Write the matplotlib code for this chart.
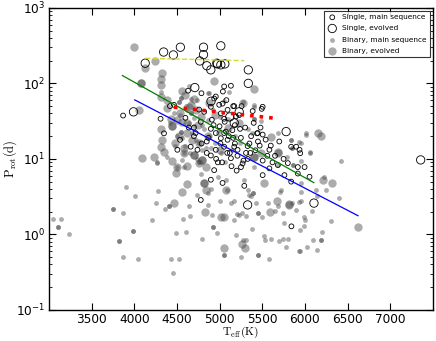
import matplotlib
matplotlib.use("Agg")
import matplotlib.pyplot as plt

plt.rcParams['mathtext.fontset'] = 'cm'
plt.rcParams['font.family'] = ['DejaVu Sans']

# Single, main sequence (small open circles)
single_ms_teff = [3870, 4309, 4349, 4419, 4466, 5133, 5505, 5842, 4780, 4937, 5172, 5192, 5180, 5494,
                  5388, 5439, 5505, 5945, 5898, 5584, 5035, 5290, 5251, 5505, 5584, 5682, 5760, 5839,
                  5917, 5996, 6054, 4537, 4506, 4780, 4898, 4956, 5015, 5074, 5094, 4662, 4741, 4898,
                  4956, 5054, 4898, 4996, 5094, 5054, 5054, 5172, 5211, 5505, 5839, 5937, 5917, 5133,
                  5270, 4898, 5160, 5258, 4937, 4956, 5039, 5054, 4788, 4631, 5035, 5447, 5329, 5015,
                  4700, 4850, 4600, 5250, 5350, 5450, 5600, 5700, 5150, 4820, 4930, 5120, 5300, 4980,
                  5200, 4760, 5080, 5400, 5650, 4700, 5230, 4870, 4910, 5000, 5060, 5110, 5180, 5240,
                  5310, 5370, 5420, 5480, 5540, 4960, 5030, 5140, 5210, 5280, 5360, 5470, 5560, 5620,
                  5750, 5800, 4790, 4850, 5010, 5090, 5160, 5330, 4640, 4720]
single_ms_prot = [37.5, 34, 21.8, 50, 52, 93, 49, 1.28, 2.86, 7.1, 50, 36.5, 28, 46,
                  43, 21.8, 21, 11.9, 14.5, 13.2, 4.8, 4.4, 7.8, 6.1, 7.5, 8.3, 6.1, 5.0,
                  6.4, 7.8, 5.8, 17.9, 13.2, 31, 25, 22, 18.8, 23, 17.9, 14.5, 13.2, 11.1,
                  13.2, 14.5, 49, 52, 44.6, 34, 22, 14.5, 13.2, 9.5, 14.5, 13.2, 7.8, 10.2,
                  8.7, 5.3, 50, 50, 63, 67, 78, 91, 74, 80, 54, 22, 14.8, 40,
                  20, 17, 35, 19, 16, 17, 15, 17, 24, 42, 28, 12, 26, 9,
                  7.0, 45, 60, 30, 11, 26, 38, 19, 33, 27, 31, 20, 16, 25,
                  12, 20, 13, 26, 18, 10, 9.0, 8.0, 11, 9.5, 12, 15, 11, 9.0,
                  10, 8.8, 16, 12, 16, 12, 19, 10, 26, 22]

# Single, evolved (large open circles)
single_ev_teff = [4345, 4459, 4541, 4129, 4812, 4812, 4768, 4851, 4898, 5015, 4968, 4976, 5062,
                  5337, 5337, 3992, 7356, 6106, 5329, 5780, 5015, 5172, 4710, 5120, 5230, 4900]
single_ev_prot = [260, 238, 301, 185, 301, 240, 198, 171, 151, 314, 185, 181, 181,
                  151, 100, 42, 9.7, 2.6, 2.46, 23, 176, 30, 88, 36, 42, 58]

# Binary, main sequence (small grey)
bin_ms_teff = [3906, 4007, 3748, 3748, 3866, 3054, 3141, 3110, 3110, 3239, 3984, 3984, 3819, 3819,
               3874, 4042, 4207, 4278, 4254, 4356, 4407, 4407, 4572, 4659, 4494, 4612, 4427, 4529,
               4459, 4792, 4647, 4965, 4921, 4921, 5050, 5050, 5195, 5251, 5274, 5313, 5376, 5450,
               5450, 5521, 5537, 5580, 5608, 5702, 5745, 5800, 5784, 5760, 5925, 5941, 5992, 5945,
               6023, 6090, 6184, 6184, 6141, 6196, 6302, 6396, 6219, 6243, 6141, 6082, 5996, 5984,
               5925, 5949, 5847, 5741, 5705, 5651, 5568, 5431, 5368, 5313, 5258, 5203, 5172, 5501,
               5447, 5447, 5898, 5956, 5721, 5682, 5231, 5172, 6133, 5956, 5329, 5388, 5388, 5348,
               5290, 5407, 4741, 4859, 4859, 4917, 5007, 4898, 5086, 5133, 4780, 4976, 5074, 4262,
               4270, 4584, 4506, 4565, 4760, 4760, 6427, 6063, 6054, 5956, 5859, 5859, 5682, 5792,
               6007, 6015, 5925, 5956, 5839, 5839, 5847, 5847, 5682, 5376, 5486, 5407, 5407, 5407,
               5407, 5270, 5047, 5113, 4859, 4878, 4643, 4662, 4741, 4553, 4553, 4529, 4529, 4466,
               4662, 4662, 4702, 4545, 4545, 4859, 5094, 4388, 4317, 4600, 4720, 4880, 4950, 5020,
               5150, 4680, 4790, 4560, 4620, 4840, 4990, 5240, 5330, 4420, 4500, 4650, 4700, 4760,
               4820, 4900, 4580, 4640, 4980, 5060, 5180, 4480, 4540, 4610, 4740, 4800, 4920, 5000]
bin_ms_prot = [4.3, 3.2, 2.15, 2.15, 1.9, 1.6, 1.6, 1.25, 1.25, 1.02, 1.1, 1.1, 0.82, 0.82,
               0.5, 0.47, 1.55, 3.8, 2.6, 2.2, 2.4, 2.4, 1.6, 1.75, 1.03, 1.08, 0.48, 0.48,
               0.31, 0.86, 2.4, 1.03, 1.27, 1.27, 0.53, 0.53, 0.97, 0.5, 0.85, 0.84, 1.17, 0.53,
               0.53, 0.96, 0.85, 0.48, 0.88, 0.83, 0.86, 0.88, 0.69, 1.42, 0.6, 0.6, 1.28, 1.15,
               0.69, 0.84, 0.84, 0.84, 0.63, 1.07, 1.49, 3.0, 5.7, 3.9, 3.2, 2.05, 1.56, 1.7,
               2.7, 3.6, 2.6, 1.9, 3.7, 2.05, 2.6, 2.6, 3.2, 1.77, 1.95, 1.87, 1.53, 1.68,
               1.9, 1.9, 2.1, 2.75, 3.9, 2.4, 1.8, 2.75, 3.9, 4.8, 3.9, 3.5, 3.5, 3.3,
               5.3, 7.8, 3.3, 3.5, 2.46, 1.8, 2.75, 3.97, 3.88, 2.6, 6.4, 5.8, 5.3, 8.9,
               9.0, 7.8, 7.8, 9.7, 9.2, 9.2, 9.5, 11.9, 12.5, 9.5, 8.3, 8.3, 8.3, 10.7,
               21.8, 21, 16.9, 16, 17.9, 17.9, 14, 14, 21.8, 21.8, 32, 33.7, 33.7, 52,
               49, 56, 58, 78, 74, 74, 91, 62, 60, 65, 65, 56, 56, 40,
               40, 40, 27, 23, 23, 33, 34, 10.7, 76, 15, 18, 20, 16, 12,
               13, 22, 28, 19, 45, 14, 24, 16, 25, 30, 20, 12, 35, 16,
               25, 14, 12, 30, 22, 9.0, 20, 15, 38, 50, 10, 13, 45, 36]

# Binary, evolved (large grey)
bin_ev_teff = [4094, 4466, 4556, 4494, 4623, 5054, 5262, 5301, 6622, 6321, 5819, 5670, 5588, 5054,
               5015, 4615, 4447, 4839, 4812, 4812, 4827, 4506, 4839, 5074, 5525, 6211, 5819, 3999,
               4125, 4239, 4325, 4313, 4309, 4074, 4074, 4937, 5407, 5270, 5231, 5604, 6184, 6153,
               5682, 5682, 5486, 5407, 5407, 4329, 4349, 4231, 4309, 4447, 4447, 4565, 4427, 4388,
               4623, 4702, 4702, 4800, 4800, 4760, 4309, 4054, 4309, 4388, 4520, 4580, 4680, 4750,
               4950, 5100, 4480, 4640, 4880, 4560, 4600, 4660, 4720, 4780, 4540, 4500, 4700, 4860,
               4620, 4760, 5000, 4580]
bin_ev_prot = [10.3, 2.6, 3.6, 6.6, 4.7, 0.66, 0.75, 0.66, 1.26, 4.8, 2.5, 2.8, 2.0, 1.7,
               1.7, 8.0, 9.5, 3.88, 4.8, 4.8, 2.0, 7.8, 7.8, 3.88, 4.8, 5.3, 2.46, 301,
               162, 198, 138, 113, 96, 100, 100, 106, 84, 55, 30, 19.5, 20, 22,
               11.9, 12.5, 11.9, 10.6, 10.6, 17.9, 12.5, 10.7, 25, 27, 27, 31, 34, 47,
               30, 11.1, 11.1, 9.7, 9.7, 8.7, 14.5, 45, 67, 60, 20, 14, 18, 28,
               38, 26, 16, 48, 55, 80, 70, 52, 44, 36, 40, 33, 62, 20,
               22, 16, 13, 12]

# Fit lines (endpoints)
yellow_teff = [4130, 5290]
yellow_prot = [215, 200]
green_teff = [3862, 6104]
green_prot = [127, 4.85]
blue_teff = [4007, 6622]
blue_prot = [60.4, 1.77]
red_teff = [4466, 5641]
red_prot = [48.4, 34.6]

fig = plt.figure(figsize=(4.36, 3.41), dpi=100)
ax = fig.add_axes([0.112, 0.091, 0.881, 0.886])

s_small = 12
s_large = 36
grey = '0.28'
alpha = 0.45

ax.scatter(single_ms_teff, single_ms_prot, s=s_small, facecolors='none', edgecolors='k',
           linewidths=0.6, label='Single, main sequence', zorder=3)
ax.scatter(single_ev_teff, single_ev_prot, s=s_large, facecolors='none', edgecolors='k',
           linewidths=0.6, label='Single, evolved', zorder=3)
ax.scatter(bin_ms_teff, bin_ms_prot, s=s_small, color=grey, alpha=alpha, linewidths=0,
           label='Binary, main sequence', zorder=2)
ax.scatter(bin_ev_teff, bin_ev_prot, s=s_large, color=grey, alpha=alpha, linewidths=0,
           label='Binary, evolved', zorder=2)

ax.plot(yellow_teff, yellow_prot, color=(0.85, 0.85, 0.2), ls='--', lw=1.0, zorder=4)
ax.plot(green_teff, green_prot, color=(0.0, 0.5, 0.0), lw=0.9, zorder=4)
ax.plot(blue_teff, blue_prot, color='b', lw=0.9, zorder=4)
ax.plot(red_teff, red_prot, color='r', ls=':', lw=2.6, zorder=4)

ax.set_yscale('log')
ax.set_xlim(3000, 7500)
ax.set_ylim(0.1, 1000)
ax.set_xticks([3500, 4000, 4500, 5000, 5500, 6000, 6500, 7000])
ax.tick_params(which='both', direction='in', top=True, right=True, labelsize=8.7)
ax.tick_params(which='major', length=5, width=0.8, pad=2.5)
ax.tick_params(which='minor', length=2.5, width=0.6)
for sp in ax.spines.values():
    sp.set_linewidth(1.0)

ax.set_xlabel(r'$\mathrm{T_{eff}(K)}$', fontsize=8.3)
ax.set_ylabel(r'$\mathrm{P_{rot}(d)}$', fontsize=9)
ax.xaxis.set_label_coords(0.5, -0.048)
ax.yaxis.set_label_coords(-0.078, 0.5)

leg = ax.legend(loc='upper right', fontsize=5.3, frameon=True, fancybox=False,
                borderaxespad=0.4, handletextpad=0.7, handlelength=1.3, labelspacing=0.68,
                scatterpoints=1, borderpad=0.45)
leg.get_frame().set_edgecolor('k')
leg.get_frame().set_linewidth(0.8)

fig.savefig('out.png', dpi=100)
